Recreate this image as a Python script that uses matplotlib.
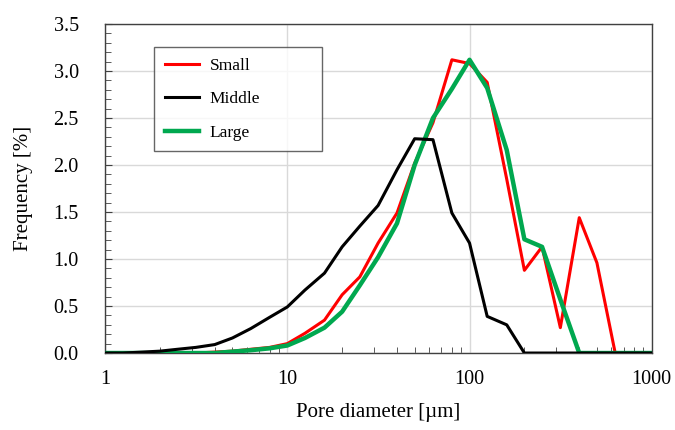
import numpy as np
import matplotlib
matplotlib.use('Agg')
import matplotlib.pyplot as plt
from matplotlib.ticker import LogLocator, MultipleLocator, NullFormatter, FixedLocator

plt.rcParams['font.family'] = ['Liberation Serif', 'DejaVu Serif']

# pore diameter bins [um]
diam = [1, 1.25, 1.6, 2, 2.5, 3.15, 4, 5, 6.3, 8, 10, 12.5, 16, 20, 25, 31.5,
        40, 50, 63, 80, 100, 125, 160, 200, 250, 315, 400, 500, 630, 800, 1000]

small = [0, 0, 0, 0, 0, 0, 0.01, 0.02, 0.04, 0.06, 0.10, 0.21, 0.35, 0.62, 0.81, 1.17,
         1.49, 2.02, 2.45, 3.12, 3.08, 2.88, 1.85, 0.88, 1.13, 0.27, 1.44, 0.96, 0, 0, 0]
middle = [0, 0, 0.01, 0.02, 0.04, 0.06, 0.09, 0.16, 0.26, 0.38, 0.49, 0.67, 0.85, 1.13, 1.35, 1.57,
          1.95, 2.28, 2.27, 1.49, 1.17, 0.39, 0.30, 0, 0, 0, 0, 0, 0, 0, 0]
large = [0, 0, 0, 0, 0, 0, 0, 0.015, 0.03, 0.05, 0.08, 0.16, 0.27, 0.44, 0.72, 1.02,
         1.38, 2.0, 2.5, 2.81, 3.12, 2.82, 2.16, 1.21, 1.13, 0.57, 0, 0, 0, 0, 0]

fig = plt.figure(figsize=(6.75, 4.3), dpi=100)
ax = fig.add_axes([0.1556, 0.179, 0.81, 0.765])

ax.plot(diam, small, color='#ff0000', lw=2.2, label='Small', zorder=3)
ax.plot(diam, middle, color='#000000', lw=2.2, label='Middle', zorder=4)
ax.plot(diam, large, color='#00a84f', lw=3.2, label='Large', zorder=3)

ax.set_xscale('log')
ax.set_xlim(1, 1000)
ax.set_ylim(0, 3.5)

ax.xaxis.set_major_locator(FixedLocator([1, 10, 100, 1000]))
ax.xaxis.set_major_formatter(matplotlib.ticker.FixedFormatter(['1', '10', '100', '1000']))
ax.xaxis.set_minor_locator(LogLocator(base=10, subs=np.arange(2, 10)))
ax.xaxis.set_minor_formatter(NullFormatter())
ax.yaxis.set_major_locator(MultipleLocator(0.5))
ax.yaxis.set_minor_locator(MultipleLocator(0.1))
ax.yaxis.set_major_formatter(matplotlib.ticker.FormatStrFormatter('%.1f'))

ax.tick_params(which='both', direction='in', colors='#404040', labelcolor='black',
               labelsize=14.5, top=False, right=False)
ax.tick_params(axis='x', which='major', length=0, pad=12)
ax.tick_params(axis='y', which='major', length=5, pad=19)
ax.tick_params(which='minor', length=4)

ax.grid(True, which='major', color='#d9d9d9', lw=1.0, zorder=0)
ax.set_axisbelow(True)
for s in ax.spines.values():
    s.set_color('#404040')
    s.set_linewidth(1.0)

ax.set_xlabel('Pore diameter [\u00b5m]', fontsize=15, labelpad=10)
ax.set_ylabel('Frequency [%]', fontsize=15, labelpad=15)

leg = ax.legend(loc='upper left', bbox_to_anchor=(0.09, 0.93, 0.307, 0.0), mode='expand',
                fontsize=12.5, frameon=True, fancybox=False, edgecolor='#404040',
                handlelength=1.95, handletextpad=0.65, labelspacing=1.0,
                borderpad=0.6, borderaxespad=0)
leg.get_frame().set_linewidth(1.0)

fig.savefig('out.png', dpi=100)
